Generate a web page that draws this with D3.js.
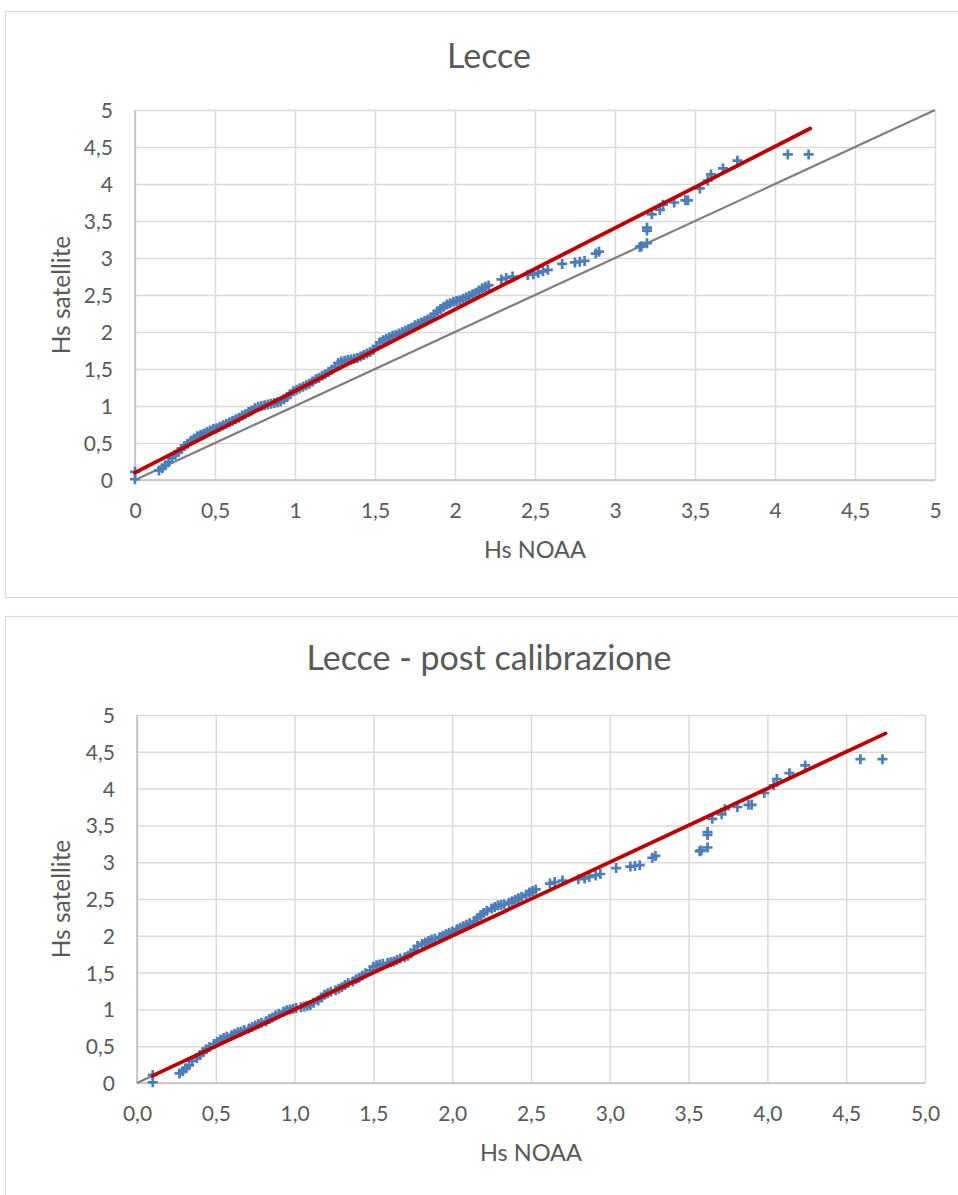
<!DOCTYPE html>
<html><head><meta charset="utf-8">
<script src="https://cdn.jsdelivr.net/npm/d3@7"></script>
<style>body{margin:0;background:#fff;} svg{display:block;font-family:Lato,"Open Sans",sans-serif;}</style>
</head><body><svg id="c" width="958" height="1195"></svg>
<script>
// Hs satellite (shared by both charts)
const satY = [0.01,0.11,
0.13,0.16,0.20,0.24,0.30,0.34,0.38,0.42,0.46,0.49,0.53,0.56,0.59,
0.61,0.63,0.65,0.67,0.69,0.70,0.72,0.74,0.76,0.78,0.80,0.82,0.84,0.87,0.89,0.92,0.94,0.97,
0.99,1.00,1.01,1.02,1.03,1.04,1.05,1.06,1.09,1.12,1.16,1.20,
1.22,1.24,1.26,1.28,1.30,1.33,1.36,1.38,1.41,1.43,1.46,1.49,1.53,1.58,1.60,
1.61,1.62,1.63,1.64,1.65,1.67,1.69,1.71,1.73,1.76,
1.81,1.86,1.89,1.91,1.93,1.95,1.96,1.98,2.00,2.02,2.04,2.06,2.09,
2.11,2.13,2.15,2.17,2.20,2.24,2.28,2.31,2.34,2.37,2.39,2.41,2.42,2.43,2.45,2.47,2.49,2.51,2.53,2.56,2.59,2.61,2.63,
2.71,2.73,2.75,2.77,2.78,2.80,2.82,2.84,2.92,2.94,2.95,2.96,3.06,3.085,3.15,3.16,3.20,3.37,3.41,3.59,3.65,3.72,3.75,3.78,3.78,3.94,4.045,4.13,4.21,4.315,4.40,4.40];

// Hs NOAA (before calibration)
const noaaX = [0,0,
0.15,0.17,0.19,0.21,0.23,0.25,0.27,0.29,0.31,0.33,0.35,0.37,0.39,
0.41,0.43,0.45,0.47,0.49,0.51,0.53,0.55,0.57,0.59,0.61,0.63,0.65,0.67,0.69,0.71,0.73,0.75,
0.77,0.79,0.81,0.83,0.85,0.87,0.89,0.91,0.93,0.95,0.97,0.99,
1.01,1.03,1.05,1.07,1.09,1.11,1.13,1.15,1.17,1.19,1.21,1.23,1.25,1.27,1.29,
1.31,1.33,1.35,1.37,1.39,1.41,1.43,1.45,1.47,1.49,
1.51,1.53,1.55,1.57,1.59,1.61,1.63,1.65,1.67,1.69,1.71,1.73,1.75,
1.77,1.79,1.81,1.83,1.85,1.87,1.89,1.91,1.93,1.95,1.97,1.99,2.01,2.03,2.05,2.07,2.09,2.11,2.13,2.15,2.17,2.19,2.21,
2.29,2.32,2.36,2.455,2.49,2.52,2.55,2.58,2.67,2.75,2.78,2.81,2.88,2.90,3.155,3.165,3.20,3.20,3.20,3.23,3.28,3.30,3.37,3.44,3.456,3.53,3.58,3.60,3.675,3.765,4.08,4.21];

// Hs NOAA (post calibration)
const noaaCalX = [0.10,0.10,
0.27,0.29,0.31,0.33,0.35,0.38,0.40,0.42,0.44,0.46,0.49,0.51,0.53,
0.55,0.57,0.60,0.62,0.64,0.66,0.68,0.71,0.73,0.75,0.77,0.79,0.82,0.84,0.86,0.88,0.90,0.93,
0.95,0.97,0.99,1.01,1.04,1.06,1.08,1.10,1.12,1.15,1.17,1.19,
1.21,1.23,1.26,1.28,1.30,1.32,1.34,1.37,1.39,1.41,1.43,1.45,1.48,1.50,1.52,
1.54,1.56,1.59,1.61,1.63,1.65,1.67,1.70,1.72,1.74,
1.76,1.78,1.81,1.83,1.85,1.87,1.89,1.92,1.94,1.96,1.98,2.00,2.03,
2.05,2.07,2.09,2.11,2.14,2.16,2.18,2.20,2.22,2.25,2.27,2.29,2.31,2.33,2.36,2.38,2.40,2.42,2.44,2.47,2.49,2.51,2.53,
2.62,2.65,2.70,2.80,2.84,2.87,2.91,2.94,3.04,3.13,3.16,3.19,3.27,3.29,3.57,3.58,3.62,3.62,3.62,3.65,3.71,3.73,3.81,3.88,3.90,3.98,4.04,4.06,4.14,4.24,4.59,4.73];

// lines: [x0, y0, x1, y1]
const fitTop = [0, 0.10, 4.22, 4.75];
const refTop = [0, 0, 5, 5];
const fitBot = [0.10, 0.10, 4.75, 4.75];
const refBot = [0, 0, 4.75, 4.75];

const tickVals = [0,0.5,1,1.5,2,2.5,3,3.5,4,4.5,5];
const yTickLabels = ["0","0,5","1","1,5","2","2,5","3","3,5","4","4,5","5"];
const xTickLabelsTop = ["0","0,5","1","1,5","2","2,5","3","3,5","4","4,5","5"];
const xTickLabelsBot = ["0,0","0,5","1,0","1,5","2,0","2,5","3,0","3,5","4,0","4,5","5,0"];

const titles = ["Lecce", "Lecce - post calibrazione"];
const xTitle = "Hs NOAA", yTitle = "Hs satellite";

const svg = d3.select("#c");
const textCol = "#595959";

function chart(cfg){
  const g = svg.append("g");
  g.append("rect").attr("x",cfg.frame[0]+0.5).attr("y",cfg.frame[1]+0.5)
    .attr("width",cfg.frame[2]).attr("height",cfg.frame[3])
    .attr("fill","#fff").attr("stroke","#d9d9d9").attr("stroke-width",1.2);
  const x = d3.scaleLinear().domain([0,5]).range([cfg.l,cfg.r]);
  const y = d3.scaleLinear().domain([0,5]).range([cfg.b,cfg.t]);
  g.append("g").attr("transform",`translate(0,${cfg.b})`)
    .call(d3.axisBottom(x).tickValues(tickVals).tickSize(-(cfg.b-cfg.t)).tickFormat((d,i)=>cfg.xLabels[i]))
    .call(a=>{a.select(".domain").remove();
      a.selectAll(".tick line").attr("stroke","#d9d9d9").attr("stroke-width",1.5);
      a.selectAll(".tick text").attr("fill",textCol).attr("font-size",21).attr("dy",0).attr("y",38).attr("font-family","Lato");});
  g.append("g").attr("transform",`translate(${cfg.l},0)`)
    .call(d3.axisLeft(y).tickValues(tickVals).tickSize(-(cfg.r-cfg.l)).tickFormat((d,i)=>yTickLabels[i]))
    .call(a=>{a.select(".domain").remove();
      a.selectAll(".tick line").attr("stroke","#d9d9d9").attr("stroke-width",1.5);
      a.selectAll(".tick text").attr("fill",textCol).attr("font-size",21).attr("x",-22).attr("dy","0.36em").attr("font-family","Lato");});
  g.append("line").attr("x1",cfg.l).attr("x2",cfg.r).attr("y1",y(0)).attr("y2",y(0)).attr("stroke","#bfbfbf").attr("stroke-width",1.5);
  g.append("line").attr("x1",x(0)).attr("x2",x(0)).attr("y1",cfg.t).attr("y2",cfg.b).attr("stroke","#bfbfbf").attr("stroke-width",1.5);
  g.append("line").attr("x1",x(cfg.ref[0])).attr("y1",y(cfg.ref[1])).attr("x2",x(cfg.ref[2])).attr("y2",y(cfg.ref[3]))
    .attr("stroke","#7f7f7f").attr("stroke-width",2.2);
  const pts = cfg.xs.map((v,i)=>[v,satY[i]]);
  g.append("g").selectAll("path").data(pts).join("path")
    .attr("transform",d=>`translate(${x(d[0])},${y(d[1])})`)
    .attr("d","M-5,0H5M0,-5V5").attr("stroke","#4a7ebb").attr("stroke-width",2.7).attr("fill","none");
  g.append("line").attr("x1",x(cfg.fit[0])).attr("y1",y(cfg.fit[1])).attr("x2",x(cfg.fit[2])).attr("y2",y(cfg.fit[3]))
    .attr("stroke","#c00000").attr("stroke-width",3.8).attr("stroke-linecap","round");
  g.append("text").attr("x",489).attr("y",cfg.titleY).attr("text-anchor","middle")
    .attr("fill",textCol).attr("font-size",34).text(cfg.title);
  g.append("text").attr("x",(cfg.l+cfg.r)/2).attr("y",cfg.b+78).attr("text-anchor","middle")
    .attr("fill",textCol).attr("font-size",23.5).text(xTitle);
  g.append("text").attr("transform",`translate(70,${(cfg.t+cfg.b)/2}) rotate(-90)`).attr("text-anchor","middle")
    .attr("fill",textCol).attr("font-size",24.5).text(yTitle);
}

chart({frame:[5,11,980,586], l:135, r:935, t:110, b:480, titleY:68, title:titles[0],
  xLabels:xTickLabelsTop, xs:noaaX, fit:fitTop, ref:refTop});
chart({frame:[5,616,980,620], l:137, r:925, t:715, b:1083, titleY:670, title:titles[1],
  xLabels:xTickLabelsBot, xs:noaaCalX, fit:fitBot, ref:refBot});
</script>
</body></html>
